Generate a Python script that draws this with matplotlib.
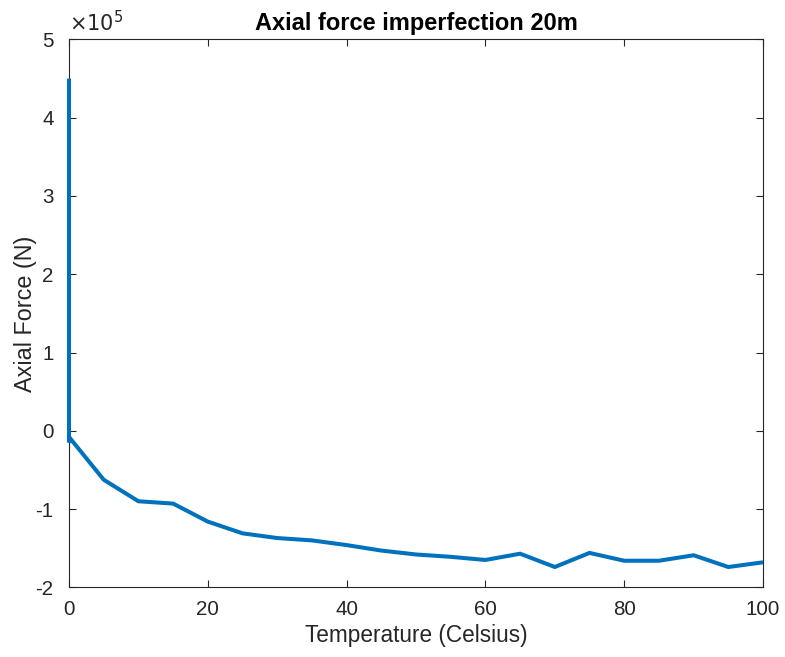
import matplotlib
matplotlib.use("Agg")
import matplotlib.pyplot as plt
from matplotlib.ticker import FuncFormatter

plt.rcParams['font.family'] = ['Liberation Sans', 'DejaVu Sans']

# Temperature (Celsius) and axial force (N)
temperature = [0, 0, 0.2, 5, 10, 15, 20, 25, 30, 35, 40, 45, 50, 55, 60,
               65, 70, 75, 80, 85, 90, 95, 100]
axial_force = [4.5e5, -0.15e5, -0.1e5, -0.625e5, -0.90e5, -0.93e5, -1.16e5,
               -1.31e5, -1.37e5, -1.40e5, -1.46e5, -1.53e5, -1.58e5, -1.61e5,
               -1.65e5, -1.57e5, -1.74e5, -1.56e5, -1.66e5, -1.66e5, -1.59e5,
               -1.74e5, -1.68e5]

x_ticks = [0, 20, 40, 60, 80, 100]
y_ticks = [-2e5, -1e5, 0, 1e5, 2e5, 3e5, 4e5, 5e5]

fig = plt.figure(figsize=(7.85, 6.57), dpi=100)
ax = fig.add_axes([0.0879, 0.106, 0.8841, 0.834])

ax.plot(temperature, axial_force, color='#0072BD', linewidth=2.9,
        solid_joinstyle='miter', solid_capstyle='butt', clip_on=False,
        zorder=3)

ax.set_xlim(0, 100)
ax.set_ylim(-2e5, 5e5)
ax.set_xticks(x_ticks)
ax.set_yticks(y_ticks)
ax.yaxis.set_major_formatter(FuncFormatter(lambda v, p: f"{v / 1e5:g}"))

axis_color = '#262626'
for s in ax.spines.values():
    s.set_color(axis_color)
    s.set_linewidth(0.8)
ax.tick_params(direction='in', length=5, width=0.8, color=axis_color,
               labelcolor=axis_color, labelsize=14.8, top=True, right=True)
ax.tick_params(axis='x', pad=9)
ax.tick_params(axis='y', pad=11)

ax.text(0.0, 1.008, r'$\times10^{5}$', transform=ax.transAxes,
        fontsize=15, color=axis_color, ha='left', va='bottom')

ax.set_xlabel('Temperature (Celsius)', fontsize=16.3, color=axis_color,
              labelpad=4)
ax.set_ylabel('Axial Force (N)', fontsize=16.8, color=axis_color,
              labelpad=-1)
ax.set_title('Axial force imperfection 20m', fontsize=17, fontweight='bold',
             color='black', pad=6.5)

fig.savefig('out.png', dpi=100)
